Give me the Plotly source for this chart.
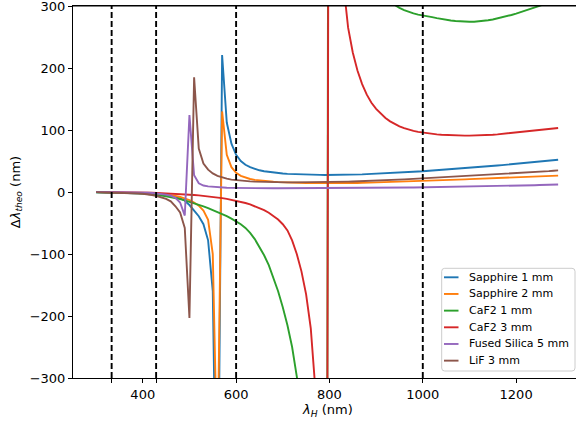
import plotly.graph_objects as go

wavelength_nm = list(range(300, 1300, 10))

sapphire_1mm = [
    -0.3, -0.4, -0.5, -0.6, -0.8, -0.9, -1.1, -1.3, -1.5, -1.8,
    -2.1, -2.5, -3.0, -3.6, -4.5, -5.5, -7.0, -9.0, -10.0, -14.0,
    -21.0, -30.0, -39.0, -52.0, -78.0, -160.0, -650.0, 221.0, 112.0, 78.0,
    60.0, 50.0, 44.0, 40.0, 37.0, 35.0, 33.5, 32.3, 31.3, 30.5,
    29.8, 29.3, 28.9, 28.6, 28.3, 28.1, 27.9, 27.7, 27.6, 27.5,
    27.5, 27.5, 27.6, 27.7, 27.8, 28.0, 28.2, 28.5, 28.8, 29.1,
    29.5, 29.9, 30.3, 30.7, 31.1, 31.5, 31.9, 32.3, 32.7, 33.1,
    33.5, 34.0, 34.5, 35.0, 35.5, 36.0, 36.6, 37.2, 37.8, 38.4,
    39.0, 39.6, 40.2, 40.8, 41.4, 42.0, 42.7, 43.4, 44.1, 44.8,
    45.5, 46.2, 46.9, 47.6, 48.3, 49.0, 49.7, 50.4, 51.2, 52.0,
]

sapphire_2mm = [
    -0.2, -0.3, -0.3, -0.4, -0.5, -0.6, -0.7, -0.8, -1.0, -1.2,
    -1.4, -1.7, -2.1, -2.6, -3.2, -4.0, -5.0, -6.3, -8.0, -10.0,
    -13.0, -17.0, -22.0, -30.0, -45.0, -100.0, -450.0, 130.0, 60.0, 40.0,
    31.0, 26.0, 23.0, 21.0, 19.5, 18.5, 17.7, 17.0, 16.5, 16.0,
    15.6, 15.3, 15.0, 14.8, 14.6, 14.5, 14.4, 14.3, 14.2, 14.2,
    14.2, 14.2, 14.2, 14.3, 14.4, 14.5, 14.6, 14.7, 14.9, 15.1,
    15.3, 15.5, 15.7, 15.9, 16.1, 16.3, 16.5, 16.8, 17.1, 17.4,
    17.7, 18.0, 18.3, 18.6, 18.9, 19.2, 19.5, 19.8, 20.1, 20.4,
    20.7, 21.0, 21.3, 21.6, 21.9, 22.2, 22.5, 22.8, 23.1, 23.4,
    23.7, 24.0, 24.3, 24.6, 24.9, 25.2, 25.5, 25.8, 26.1, 26.4,
]

caf2_1mm = [
    -0.3, -0.4, -0.5, -0.6, -0.8, -1.0, -1.2, -1.5, -1.8, -2.2,
    -2.7, -3.3, -4.0, -4.8, -5.8, -7.0, -8.3, -9.8, -11.5, -13.5,
    -15.7, -18.0, -20.5, -23.2, -26.0, -29.0, -32.0, -35.5, -39.0, -43.0,
    -47.0, -52.0, -58.0, -66.0, -76.0, -88.0, -102.0, -118.0, -138.0, -160.0,
    -186.0, -215.0, -250.0, -292.0, -345.0, -420.0, -530.0, -720.0, -1100.0, -3000.0,
    1850.0, 1300.0, 950.0, 760.0, 610.0, 510.0, 445.0, 400.0, 368.0, 345.0,
    328.0, 318.0, 311.0, 306.0, 301.5, 297.0, 293.5, 290.5, 288.0, 286.0,
    285.0, 283.5, 282.0, 280.5, 279.0, 277.8, 276.7, 275.8, 275.0, 274.6,
    274.5, 274.7, 275.2, 276.0, 277.0, 278.3, 279.8, 281.5, 283.4, 285.5,
    287.7, 290.0, 292.4, 294.9, 297.5, 300.2, 303.0, 306.0, 309.0, 312.0,
]

caf2_3mm = [
    -0.1, -0.1, -0.2, -0.2, -0.3, -0.3, -0.4, -0.5, -0.6, -0.7,
    -0.9, -1.0, -1.2, -1.4, -1.7, -2.0, -2.4, -2.8, -3.2, -3.7,
    -4.2, -4.8, -5.4, -6.1, -6.9, -7.8, -8.8, -9.9, -11.1, -12.5,
    -14.0, -15.8, -17.8, -20.1, -22.8, -25.8, -29.3, -33.5, -38.5, -44.5,
    -52.0, -62.0, -78.0, -100.0, -128.0, -165.0, -220.0, -320.0, -560.0, -2400.0,
    1300.0, 640.0, 440.0, 335.0, 265.0, 225.0, 196.0, 174.0, 157.0, 144.0,
    134.0, 126.0, 119.5, 114.0, 109.5, 106.0, 103.0, 100.5, 98.5, 97.0,
    95.7, 94.6, 93.7, 93.0, 92.4, 91.9, 91.5, 91.2, 91.0, 90.9,
    90.9, 91.0, 91.2, 91.5, 91.9, 92.4, 93.0, 93.7, 94.5, 95.3,
    96.1, 96.9, 97.7, 98.5, 99.3, 100.1, 100.9, 101.7, 102.5, 103.3,
]

fused_silica_5mm = [
    -0.1, -0.1, -0.2, -0.2, -0.3, -0.3, -0.4, -0.5, -0.6, -0.8,
    -1.0, -1.3, -1.7, -2.2, -3.0, -4.2, -6.0, -9.5, -17.0, -38.0,
    124.0, 27.0, 14.0, 10.5, 9.0, 8.2, 7.6, 7.2, 6.9, 6.7,
    6.5, 6.4, 6.3, 6.2, 6.1, 6.0, 6.0, 6.0, 6.0, 6.0,
    6.0, 6.0, 6.0, 6.0, 6.0, 6.0, 6.0, 6.0, 6.0, 6.0,
    6.0, 6.0, 6.1, 6.1, 6.2, 6.2, 6.3, 6.4, 6.4, 6.5,
    6.5, 6.6, 6.7, 6.8, 6.9, 7.0, 7.1, 7.2, 7.3, 7.4,
    7.5, 7.6, 7.7, 7.8, 8.0, 8.1, 8.2, 8.4, 8.5, 8.7,
    8.8, 9.0, 9.1, 9.3, 9.4, 9.6, 9.8, 9.9, 10.1, 10.2,
    10.4, 10.6, 10.7, 10.9, 11.0, 11.2, 11.4, 11.6, 11.8, 12.0,
]

lif_3mm = [
    -0.2, -0.3, -0.4, -0.5, -0.7, -0.9, -1.1, -1.4, -1.8, -2.3,
    -2.9, -3.7, -4.9, -6.5, -8.5, -11.0, -15.0, -23.0, -33.0, -58.0,
    -203.0, 185.0, 70.0, 46.0, 36.0, 30.0, 26.0, 23.5, 21.5, 20.0,
    19.0, 18.2, 17.6, 17.1, 16.7, 16.4, 16.1, 15.9, 15.8, 15.7,
    15.6, 15.6, 15.6, 15.6, 15.7, 15.7, 15.8, 15.9, 16.0, 16.1,
    16.2, 16.3, 16.4, 16.6, 16.8, 17.0, 17.2, 17.5, 17.7, 18.0,
    18.2, 18.5, 18.9, 19.2, 19.6, 20.0, 20.3, 20.7, 21.1, 21.4,
    21.8, 22.2, 22.6, 22.9, 23.3, 23.7, 24.1, 24.5, 24.9, 25.3,
    25.7, 26.1, 26.5, 27.0, 27.4, 27.8, 28.2, 28.7, 29.1, 29.6,
    30.0, 30.5, 31.0, 31.5, 32.0, 32.5, 33.1, 33.7, 34.3, 34.9,
]

series_names = ["Sapphire 1 mm", "Sapphire 2 mm", "CaF2 1 mm", "CaF2 3 mm",
                "Fused Silica 5 mm", "LiF 3 mm"]
series_values = [sapphire_1mm, sapphire_2mm, caf2_1mm, caf2_3mm,
                 fused_silica_5mm, lif_3mm]
series_colors = ["#1f77b4", "#ff7f0e", "#2ca02c", "#d62728", "#9467bd", "#8c564b"]

marker_lines_nm = [333.3, 428.6, 600, 1000]

x_tick_vals = [400, 600, 800, 1000, 1200]
x_minor_tick_vals = [333.3, 428.6]
y_tick_vals = [-300, -200, -100, 0, 100, 200, 300]

# layout geometry (pixels)
W, H = 576, 423
ML, MR, MT, MB = 73, 0, 6, 45
PW, PH = W - ML - MR, H - MT - MB


def px_x(px):
    return (px - ML) / PW


def px_y(py):
    return (H - MB - py) / PH


fig = go.Figure()
for name, vals, col in zip(series_names, series_values, series_colors):
    fig.add_trace(go.Scatter(x=wavelength_nm, y=vals, mode="lines", name=name,
                             showlegend=False,
                             line=dict(color=col, width=1.9)))

for xv in marker_lines_nm:
    fig.add_trace(go.Scatter(x=[xv, xv], y=[-300, 300], mode="lines",
                             showlegend=False, hoverinfo="skip",
                             line=dict(color="black", width=1.9, dash="6px,3px")))

font_family = "DejaVu Sans"
fig.update_layout(
    width=W, height=H,
    margin=dict(l=ML, r=MR, t=MT, b=MB),
    plot_bgcolor="white", paper_bgcolor="white",
    font=dict(family=font_family, size=13, color="black"),
    showlegend=False,
    xaxis=dict(range=[250.5, 1328.3], showgrid=False, zeroline=False,
               showline=True, linecolor="black", linewidth=1, mirror=True,
               ticks="outside", ticklen=4, tickwidth=1, tickcolor="black",
               tickmode="array", tickvals=x_tick_vals,
               minor=dict(tickmode="array", tickvals=x_minor_tick_vals,
                          ticks="outside", ticklen=4, tickwidth=1,
                          tickcolor="black", showgrid=False),
               tickfont=dict(size=13)),
    yaxis=dict(range=[-300, 300], showgrid=False, zeroline=False,
               showline=True, linecolor="black", linewidth=1, mirror=False,
               ticks="outside", ticklen=4, tickwidth=1, tickcolor="black",
               tickvals=y_tick_vals, tickfont=dict(size=13),
               ticklabeloverflow="allow",
               title=dict(text="Δ<i>λ</i><sub><i>theo</i></sub> (nm)",
                          standoff=6, font=dict(size=13))),
)

# top spine
fig.add_shape(type="line", xref="paper", yref="paper", x0=0, x1=1, y0=1, y1=1,
              line=dict(color="black", width=1), layer="above")

fig.add_annotation(text="<i>λ</i><sub><i>H</i></sub> (nm)", xref="paper", yref="paper",
                   x=px_x(327), y=px_y(411), xanchor="center", yanchor="middle",
                   showarrow=False, font=dict(size=13, family=font_family))

# legend box (drawn manually to match the compact matplotlib legend)
bx0, bx1, by0, by1, r = 441.7, 575.0, 268.3, 371.0, 3.0
path = (f"M {px_x(bx0 + r)},{px_y(by0)} L {px_x(bx1 - r)},{px_y(by0)} "
        f"Q {px_x(bx1)},{px_y(by0)} {px_x(bx1)},{px_y(by0 + r)} "
        f"L {px_x(bx1)},{px_y(by1 - r)} Q {px_x(bx1)},{px_y(by1)} {px_x(bx1 - r)},{px_y(by1)} "
        f"L {px_x(bx0 + r)},{px_y(by1)} Q {px_x(bx0)},{px_y(by1)} {px_x(bx0)},{px_y(by1 - r)} "
        f"L {px_x(bx0)},{px_y(by0 + r)} Q {px_x(bx0)},{px_y(by0)} {px_x(bx0 + r)},{px_y(by0)} Z")
fig.add_shape(type="path", path=path, xref="paper", yref="paper",
              fillcolor="rgba(255,255,255,0.8)", line=dict(color="#cccccc", width=1),
              layer="above")

row0, row_step = 277.3, 16.67
for i, (name, col) in enumerate(zip(series_names, series_colors)):
    yc = row0 + i * row_step
    fig.add_shape(type="line", xref="paper", yref="paper",
                  x0=px_x(444), x1=px_x(458.5), y0=px_y(yc), y1=px_y(yc),
                  line=dict(color=col, width=1.9), layer="above")
    fig.add_annotation(text=name, xref="paper", yref="paper",
                       x=px_x(466.5), y=px_y(yc), xanchor="left", yanchor="middle",
                       showarrow=False, font=dict(size=11, family=font_family))

fig.write_html("out.html")
